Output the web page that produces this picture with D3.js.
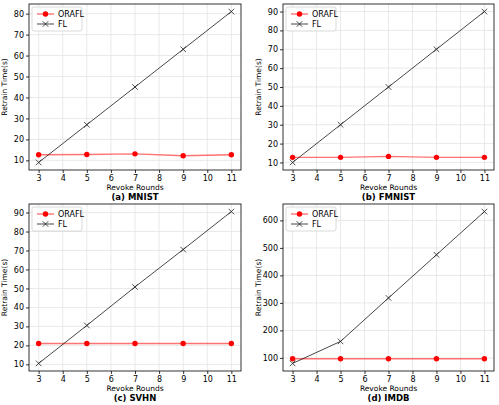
<!DOCTYPE html>
<html>
<head>
<meta charset="utf-8">
<script src="https://cdn.jsdelivr.net/npm/d3@7"></script>
<style>
  body { margin: 0; background: #fff; }
  svg { font-family: "DejaVu Sans", sans-serif; }
</style>
</head>
<body>
<div id="chart"></div>
<script>
const W = 499;
const H = 405;

const rounds = [3, 5, 7, 9, 11];
const xTicks = [3, 4, 5, 6, 7, 8, 9, 10, 11];

const panels = ['(a) MNIST', '(b) FMNIST', '(c) SVHN', '(d) IMDB'];
const orafl = [
  [12.7, 12.8, 13.1, 12.2, 12.7],
  [12.7, 12.7, 13.2, 12.7, 12.7],
  [21, 21, 21, 21, 21],
  [97, 97, 97, 97, 97]
];
const fl = [
  [9, 27, 45, 63, 81],
  [10, 30, 50, 70, 90],
  [10.5, 30.5, 50.8, 70.5, 90.5],
  [80, 160, 318, 475, 632]
];
const yTicks = [
  [10, 20, 30, 40, 50, 60, 70, 80],
  [10, 20, 30, 40, 50, 60, 70, 80, 90],
  [10, 20, 30, 40, 50, 60, 70, 80, 90],
  [100, 200, 300, 400, 500, 600]
];

// axes boxes [left, top, right, bottom]
const boxes = [
  [29, 4, 241, 170],
  [283, 4, 494, 170],
  [29, 204, 241, 371],
  [283, 204, 494, 371]
];

const svg = d3.select('#chart').append('svg')
  .attr('width', W)
  .attr('height', H);

panels.forEach((title, i) => {
  const [l, t, r, b] = boxes[i];
  const all = orafl[i].concat(fl[i]);
  const lo = d3.min(all), hi = d3.max(all);
  const pad = (hi - lo) * 0.05;

  const x = d3.scaleLinear().domain([2.6, 11.4]).range([l, r]);
  const y = d3.scaleLinear().domain([lo - pad, hi + pad]).range([b, t]);

  const g = svg.append('g');

  // grid
  g.append('g').selectAll('line').data(xTicks).join('line')
    .attr('x1', d => x(d)).attr('x2', d => x(d))
    .attr('y1', t).attr('y2', b)
    .attr('stroke', '#e3e3e3').attr('stroke-width', 0.8);
  g.append('g').selectAll('line').data(yTicks[i]).join('line')
    .attr('x1', l).attr('x2', r)
    .attr('y1', d => y(d)).attr('y2', d => y(d))
    .attr('stroke', '#e3e3e3').attr('stroke-width', 0.8);

  // axes
  const xa = g.append('g').attr('transform', `translate(0,${b})`)
    .call(d3.axisBottom(x).tickValues(xTicks).tickSize(3).tickPadding(2).tickFormat(d3.format('d')));
  const ya = g.append('g').attr('transform', `translate(${l},0)`)
    .call(d3.axisLeft(y).tickValues(yTicks[i]).tickSize(3).tickPadding(2).tickFormat(d3.format('d')));
  [xa, ya].forEach(a => {
    a.select('.domain').remove();
    a.selectAll('text').attr('font-size', 8).attr('fill', '#000')
      .attr('font-family', '"DejaVu Sans", sans-serif');
    a.selectAll('line').attr('stroke', '#000').attr('stroke-width', 0.8);
  });

  g.append('rect')
    .attr('x', l).attr('y', t).attr('width', r - l).attr('height', b - t)
    .attr('fill', 'none').attr('stroke', '#000').attr('stroke-width', 0.8);

  // lines
  const line = d3.line().x((d, k) => x(rounds[k])).y(d => y(d));
  g.append('path').datum(orafl[i])
    .attr('d', line).attr('fill', 'none')
    .attr('stroke', '#ff0000').attr('stroke-opacity', 0.55).attr('stroke-width', 1.4);
  g.append('g').selectAll('circle').data(orafl[i]).join('circle')
    .attr('cx', (d, k) => x(rounds[k])).attr('cy', d => y(d))
    .attr('r', 2.7).attr('fill', '#ff0000');

  g.append('path').datum(fl[i])
    .attr('d', line).attr('fill', 'none')
    .attr('stroke', '#000').attr('stroke-opacity', 0.8).attr('stroke-width', 0.9);
  const cross = d3.symbol().type(d3.symbolX).size(22);
  g.append('g').selectAll('path').data(fl[i]).join('path')
    .attr('transform', (d, k) => `translate(${x(rounds[k])},${y(d)})`)
    .attr('d', cross).attr('fill', 'none').attr('stroke', '#222').attr('stroke-width', 0.8);

  // legend
  const lx = l + 3, ly = t + 3;
  g.append('rect')
    .attr('x', lx).attr('y', ly).attr('width', 50).attr('height', 24).attr('rx', 2)
    .attr('fill', '#fff').attr('fill-opacity', 0.85)
    .attr('stroke', '#d0d0d0').attr('stroke-width', 0.8);
  g.append('line').attr('x1', lx + 5).attr('x2', lx + 22).attr('y1', ly + 7).attr('y2', ly + 7)
    .attr('stroke', '#ff0000').attr('stroke-opacity', 0.55).attr('stroke-width', 1.4);
  g.append('circle').attr('cx', lx + 13.5).attr('cy', ly + 7).attr('r', 2.7).attr('fill', '#ff0000');
  g.append('line').attr('x1', lx + 5).attr('x2', lx + 22).attr('y1', ly + 17).attr('y2', ly + 17)
    .attr('stroke', '#000').attr('stroke-opacity', 0.8).attr('stroke-width', 0.9);
  g.append('path').attr('transform', `translate(${lx + 13.5},${ly + 17})`)
    .attr('d', cross).attr('fill', 'none').attr('stroke', '#222').attr('stroke-width', 0.8);
  g.append('text').attr('x', lx + 26).attr('y', ly + 10).attr('font-size', 8).text('ORAFL');
  g.append('text').attr('x', lx + 26).attr('y', ly + 20).attr('font-size', 8).text('FL');

  // labels
  const cx = (l + r) / 2;
  g.append('text').attr('x', cx).attr('y', b + 19.5)
    .attr('text-anchor', 'middle').attr('font-size', 7.5).text('Revoke Rounds');
  g.append('text').attr('x', cx).attr('y', b + 29.5)
    .attr('text-anchor', 'middle').attr('font-size', 8.5).attr('font-weight', 'bold').text(title);
  g.append('text')
    .attr('transform', `translate(${l - 22},${(t + b) / 2}) rotate(-90)`)
    .attr('text-anchor', 'middle').attr('font-size', 7.5).text('Retrain Time(s)');
});
</script>
</body>
</html>
